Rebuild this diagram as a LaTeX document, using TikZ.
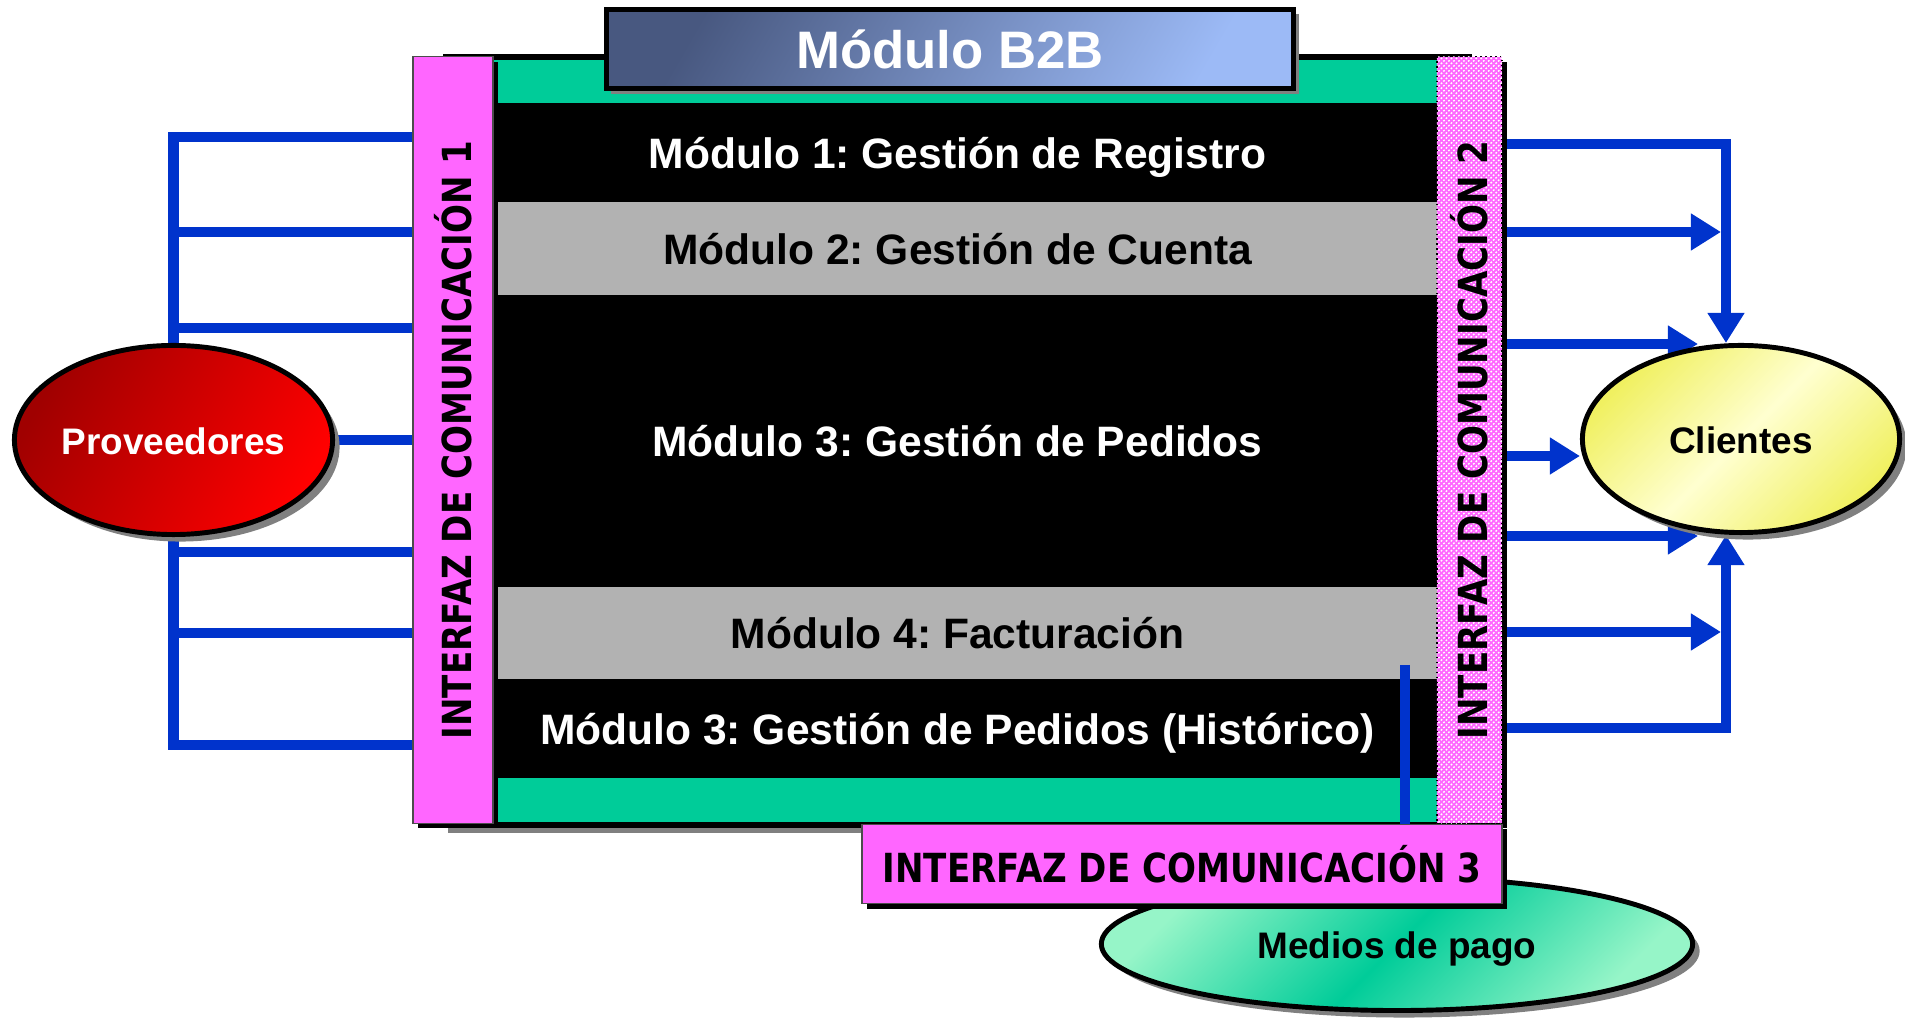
\documentclass[tikz,border=0pt]{standalone}
\usepackage{fontspec}
\usepackage{graphicx}
\setmainfont{Liberation Sans}
\newfontfamily\ifacefont{DejaVu Sans}[FakeStretch=0.85]
\usetikzlibrary{arrows.meta,shapes.geometric,shadows,backgrounds,patterns.meta}
\frenchspacing

\definecolor{verdeB}{RGB}{0,204,153}
\definecolor{rosa}{RGB}{255,102,255}
\definecolor{grisB}{RGB}{178,178,178}
\definecolor{azul}{RGB}{0,51,204}
\definecolor{tituloA}{RGB}{72,88,128}
\definecolor{tituloB}{RGB}{156,186,246}
\definecolor{rojoA}{RGB}{160,0,0}
\definecolor{rojoB}{RGB}{255,0,0}
\definecolor{amarA}{RGB}{240,240,96}
\definecolor{amarB}{RGB}{255,255,208}
\definecolor{mentaA}{RGB}{150,245,200}

\tikzset{
  banda/.style={rectangle, minimum width=10.29cm, inner sep=0pt, text height=0.89em, text depth=0pt,
    font=\bfseries\fontsize{12.1}{14}\selectfont},
  interfaz/.style={rectangle, fill=rosa, draw=black!70, line width=0.4pt, inner sep=0pt,
    font=\ifacefont\bfseries\fontsize{11.4}{13}\selectfont,
    drop shadow={shadow xshift=0.05cm, shadow yshift=-0.05cm, fill=black, opacity=1}},
  entidad/.style={ellipse, draw=black, line width=1.4pt, inner sep=0pt, text height=0.85em, text depth=0pt,
    font=\bfseries\fontsize{10.5}{12}\selectfont,
    drop shadow={shadow xshift=0.07cm, shadow yshift=-0.07cm, fill=gray, opacity=1}},
  bus/.style={draw=azul, line width=0.1cm},
  flecha/.style={bus, -{Triangle[length=0.3cm, width=0.35cm]}},
}

\begin{document}
\begin{tikzpicture}[x=0.01cm, y=-0.01cm]
\useasboundingbox (0,0) rectangle (1905,1019);

% cuerpo del modulo
\node[fill=black, inner sep=0pt, minimum width=10.29cm, minimum height=7.74cm,
  drop shadow={shadow xshift=0.05cm, shadow yshift=-0.05cm, fill=gray, opacity=1}] (cuerpo) at (957.5,441) {};

\node[banda, fill=verdeB, minimum height=0.43cm] (sup) at (957.5,81.5) {};
\node[banda, fill=black, text=white, minimum height=0.98cm] (m1) at (957.5,153) {Módulo 1: Gestión de Registro};
\node[banda, fill=grisB, text=black, minimum height=0.93cm] (m2) at (957.5,248.5) {Módulo 2: Gestión de Cuenta};
\node[banda, fill=black, text=white, minimum height=2.92cm] (m3) at (957.5,441) {Módulo 3: Gestión de Pedidos};
\node[banda, fill=grisB, text=black, minimum height=0.92cm] (m4) at (957.5,633) {Módulo 4: Facturación};
\node[banda, fill=black, text=white, minimum height=0.99cm] (m5) at (957.5,728.5) {Módulo 3: Gestión de Pedidos (Histórico)};
\node[banda, fill=verdeB, minimum height=0.44cm] (inf) at (957.5,800) {};

% medios de pago, debajo de la interfaz 3
\node[entidad, text=black, top color=mentaA, bottom color=mentaA, middle color=verdeB, shading angle=45,
  minimum width=5.91cm, minimum height=1.33cm] (pago) at (1397,944) {Medios de pago};

% interfaces
\node[interfaz, minimum width=0.8cm, minimum height=7.66cm] (if1) at (453,440) {\rotatebox{90}{INTERFAZ DE COMUNICACIÓN 1}};
\node[interfaz, draw=black, densely dotted, preaction={fill=rosa},
  pattern={Lines[angle=-45, distance=1pt, line width=0.5pt]}, pattern color=white,
  minimum width=0.65cm, minimum height=7.66cm] (if2) at (1469.5,440) {\rotatebox{90}{INTERFAZ DE COMUNICACIÓN 2}};
\node[interfaz, minimum width=6.40cm, minimum height=0.79cm] (if3) at (1182,864) {INTERFAZ DE COMUNICACIÓN 3};

% titulo
\node[draw=black, line width=1.4pt, text=white, left color=tituloA, right color=tituloB, shading angle=60,
  font=\bfseries\fontsize{15}{18}\selectfont, minimum width=6.87cm, minimum height=0.79cm,
  drop shadow={shadow xshift=0.05cm, shadow yshift=-0.05cm, fill=gray, opacity=1}] (titulo) at (950,49) {Módulo B2B};

\node[entidad, text=white, left color=rojoA, right color=rojoB, shading angle=60,
  minimum width=3.18cm, minimum height=1.89cm] (prov) at (173.5,440) {Proveedores};
\node[entidad, text=black, top color=amarA, bottom color=amarA, middle color=amarB, shading angle=45,
  minimum width=3.17cm, minimum height=1.87cm] (cli) at (1741,439) {Clientes};

\coordinate (enlace) at (1405,665);
\draw[bus] (enlace) -- (enlace |- if3.north);

\coordinate (busL) at (1721,0);
\coordinate (tipR) at (1698,0);

\begin{scope}[on background layer]
% proveedores -> interfaz 1
\draw[bus] (prov.north) |- (if1.west |- 0,137);
\foreach \y in {232,328}
  \draw[bus] (prov.north |- 0,\y) -- (if1.west |- 0,\y);
\draw[bus] (prov.east) -- (if1.west |- prov.east);
\draw[bus] (prov.south) |- (if1.west |- 0,745);
\foreach \y in {552,633}
  \draw[bus] (prov.south |- 0,\y) -- (if1.west |- 0,\y);

% interfaz 2 -> clientes
\draw[flecha] (if2.east |- 0,144) -| ([xshift=-0.15cm]cli.north);
\draw[flecha] (if2.east |- 0,232) -- (busL |- 0,232);
\draw[flecha] (if2.east |- 0,344) -- (tipR |- 0,344);
\draw[flecha] (if2.east |- 0,456) -- (cli.west |- 0,456);
\draw[flecha] (if2.east |- 0,536) -- (tipR |- 0,536);
\draw[flecha] (if2.east |- 0,632) -- (busL |- 0,632);
\draw[flecha] (if2.east |- 0,728) -| ([xshift=-0.15cm]cli.south);
\end{scope}
\end{tikzpicture}
\end{document}
